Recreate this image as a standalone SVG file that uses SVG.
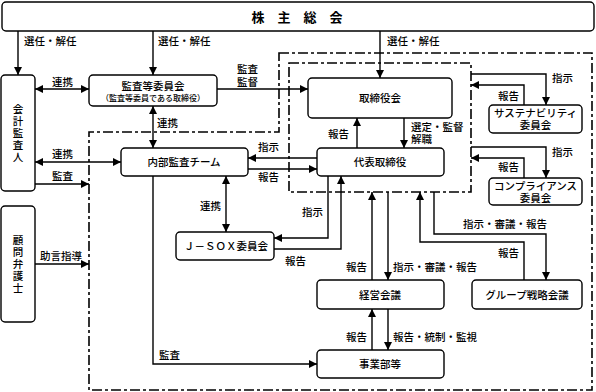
<svg xmlns="http://www.w3.org/2000/svg" width="596" height="392" viewBox="0 0 596 392">
<style>
.box{fill:#fff;stroke:#000;stroke-width:1.4}
.t{font-family:"Noto Sans CJK JP","Noto Sans CJK SC",sans-serif;font-size:10.5px;fill:#000;font-weight:500}
.c{text-anchor:middle}
.v{writing-mode:vertical-rl;text-anchor:middle;letter-spacing:1.5px}
.ln{fill:none;stroke:#000;stroke-width:1.4}
.dd{fill:none;stroke:#000;stroke-width:1.6;stroke-dasharray:10 3 3 3}
</style>
<defs>
<marker id="a" markerUnits="userSpaceOnUse" markerWidth="9" markerHeight="8" refX="8" refY="4" orient="auto-start-reverse" viewBox="0 0 9 8">
<path d="M0,0 L8,4 L0,8 z" fill="#000"/>
</marker>
</defs>
<g id="boundaries">
<path class="dd" d="M279,53 H592 V390 H89 V132 H279 Z"/>
<rect class="dd" x="289" y="63" width="182" height="129"/>
</g>
<g id="connectors" class="ln">
<path d="M18,31 V75" marker-end="url(#a)"/>
<path d="M153,31 V75" marker-end="url(#a)"/>
<path d="M380,31 V78" marker-end="url(#a)"/>
<path d="M35,89 H89" marker-start="url(#a)" marker-end="url(#a)"/>
<path d="M217,89 H308" marker-end="url(#a)"/>
<path d="M153,106 V148" marker-start="url(#a)" marker-end="url(#a)"/>
<path d="M35,162 H121" marker-start="url(#a)" marker-end="url(#a)"/>
<path d="M35,184 H89" marker-end="url(#a)"/>
<path d="M35,264 H89" marker-end="url(#a)"/>
<path d="M317,158 H248" marker-end="url(#a)"/>
<path d="M248,169 H317" marker-end="url(#a)"/>
<path d="M357,148 V118" marker-end="url(#a)"/>
<path d="M404,118 V148" marker-end="url(#a)"/>
<path d="M226,176 V232" marker-start="url(#a)" marker-end="url(#a)"/>
<path d="M328,176 V238 H274" marker-end="url(#a)"/>
<path d="M274,249 H341 V176" marker-end="url(#a)"/>
<path d="M372,280 V192" marker-end="url(#a)"/>
<path d="M388,192 V280" marker-end="url(#a)"/>
<path d="M524,280 V242 H420 V192" marker-end="url(#a)"/>
<path d="M434,192 V234 H546 V280" marker-end="url(#a)"/>
<path d="M372,350 V309" marker-end="url(#a)"/>
<path d="M388,309 V350" marker-end="url(#a)"/>
<path d="M153,176 V364 H317" marker-end="url(#a)"/>
<path d="M471,74 H546 V105" marker-end="url(#a)"/>
<path d="M524,105 V85 H471" marker-end="url(#a)"/>
<path d="M471,147 H546 V178" marker-end="url(#a)"/>
<path d="M524,178 V158 H471" marker-end="url(#a)"/>
</g>
<g id="labels" class="t">
<text x="24" y="45">選任・解任</text>
<text x="158" y="45">選任・解任</text>
<text x="387" y="45">選任・解任</text>
<text x="52" y="86">連携</text>
<text><tspan x="237" y="73">監査</tspan><tspan x="237" y="86">監督</tspan></text>
<text x="157" y="127">連携</text>
<text x="52" y="158">連携</text>
<text x="52" y="180">監査</text>
<text x="258" y="151">指示</text>
<text x="258" y="181">報告</text>
<text x="328" y="138">報告</text>
<text><tspan x="411" y="131">選定・監督</tspan><tspan x="411" y="143">解職</tspan></text>
<text x="552" y="82">指示</text>
<text x="498" y="100">報告</text>
<text x="552" y="156">指示</text>
<text x="498" y="171">報告</text>
<text x="200" y="210">連携</text>
<text x="302" y="216">指示</text>
<text x="285" y="265">報告</text>
<text x="463" y="228">指示・審議・報告</text>
<text x="498" y="257">報告</text>
<text x="346" y="271">報告</text>
<text x="393" y="271">指示・審議・報告</text>
<text x="346" y="341">報告</text>
<text x="393" y="341">報告・統制・監視</text>
<text x="159" y="359">監査</text>
<text x="40" y="260">助言指導</text>
</g>
<g id="shareholders">
<rect class="box" x="2" y="2" width="592" height="29" rx="4"/>
<text class="t c" x="297" y="22" style="font-size:13px;font-weight:bold">株　主　総　会</text>
</g>
<g id="auditor">
<rect class="box" x="1" y="75" width="34" height="116" rx="4"/>
<text class="t v" x="18" y="134">会計監査人</text>
</g>
<g id="lawyer">
<rect class="box" x="1" y="206" width="34" height="116" rx="4"/>
<text class="t v" x="18" y="265">顧問弁護士</text>
</g>
<g id="audit-committee">
<rect class="box" x="89" y="75" width="128" height="31" rx="4"/>
<text class="t c"><tspan x="153" y="90">監査等委員会</tspan><tspan x="153" y="101" style="font-size:8px">（監査等委員である取締役）</tspan></text>
</g>
<g id="board">
<rect class="box" x="308" y="78" width="144" height="40" rx="4"/>
<text class="t c" x="380" y="102">取締役会</text>
</g>
<g id="ceo">
<rect class="box" x="317" y="148" width="127" height="28" rx="4"/>
<text class="t c" x="380" y="166">代表取締役</text>
</g>
<g id="internal-audit">
<rect class="box" x="121" y="148" width="127" height="28" rx="4"/>
<text class="t c" x="184" y="166">内部監査チーム</text>
</g>
<g id="sustainability">
<rect class="box" x="489" y="105" width="93" height="28" rx="4"/>
<text class="t c"><tspan x="535.5" y="117">サステナビリティ</tspan><tspan x="535.5" y="129">委員会</tspan></text>
</g>
<g id="compliance">
<rect class="box" x="489" y="178" width="93" height="27" rx="4"/>
<text class="t c"><tspan x="535.5" y="190">コンプライアンス</tspan><tspan x="535.5" y="202">委員会</tspan></text>
</g>
<g id="jsox">
<rect class="box" x="176" y="232" width="98" height="28" rx="4"/>
<text class="t c" x="226" y="250">Ｊ－ＳＯＸ委員会</text>
</g>
<g id="management">
<rect class="box" x="317" y="280" width="127" height="29" rx="4"/>
<text class="t c" x="380" y="299">経営会議</text>
</g>
<g id="group-strategy">
<rect class="box" x="472" y="280" width="110" height="29" rx="4"/>
<text class="t c" x="527" y="299">グループ戦略会議</text>
</g>
<g id="divisions">
<rect class="box" x="317" y="350" width="127" height="28" rx="4"/>
<text class="t c" x="380" y="368">事業部等</text>
</g>
</svg>
